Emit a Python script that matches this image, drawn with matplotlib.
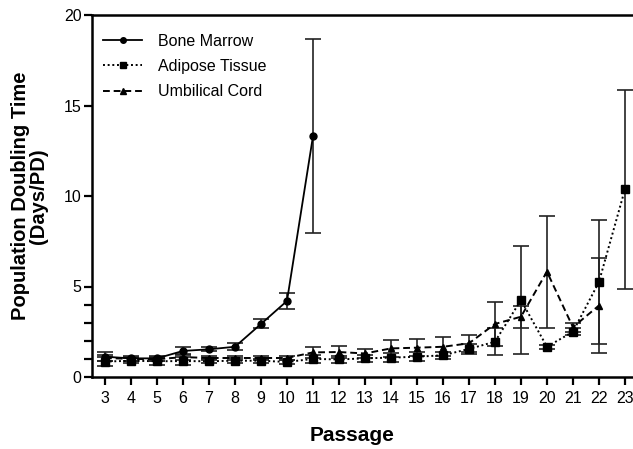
import matplotlib
matplotlib.use("Agg")
import matplotlib.pyplot as plt
from matplotlib.lines import Line2D

plt.rcParams['font.family'] = ['Liberation Sans', 'DejaVu Sans']

# Data
bm_passage = [3, 4, 5, 6, 7, 8, 9, 10, 11]
bm_mean = [1.12, 1.03, 1.03, 1.44, 1.53, 1.67, 2.93, 4.2, 13.3]
bm_err = [0.25, 0.12, 0.15, 0.2, 0.1, 0.2, 0.25, 0.43, 5.36]

at_passage = list(range(3, 24))
at_mean = [0.85, 0.9, 0.87, 0.88, 0.87, 0.9, 0.9, 0.83, 1.0, 0.97, 1.03, 1.07,
           1.12, 1.2, 1.55, 1.95, 4.25, 1.67, 2.5, 5.25, 10.37]
at_err = [0.25, 0.15, 0.2, 0.2, 0.1, 0.15, 0.1, 0.1, 0.2, 0.2, 0.2, 0.25,
          0.25, 0.2, 0.3, 0.75, 3.0, 0.1, 0.2, 3.4, 5.5]

uc_passage = list(range(3, 23))
uc_mean = [1.05, 1.0, 0.98, 1.1, 1.05, 1.05, 1.05, 1.05, 1.36, 1.38, 1.3, 1.58,
           1.62, 1.67, 1.86, 2.93, 3.33, 5.82, 2.75, 3.95]
uc_err = [0.15, 0.1, 0.1, 0.15, 0.1, 0.1, 0.1, 0.1, 0.3, 0.35, 0.25, 0.46,
          0.48, 0.52, 0.46, 1.2, 0.6, 3.1, 0.25, 2.6]

series_labels = ['Bone Marrow', 'Adipose Tissue', 'Umbilical Cord']

fig = plt.figure(figsize=(6.33, 4.49), dpi=100)
ax = fig.add_axes([92/633, 1 - 377/449, 1 - 92/633, (377 - 15)/449])

dot = (0, (1, 1.4))
dash = (0, (3.5, 2))
ekw = dict(ecolor='#222222', elinewidth=1.2, capsize=5.5, capthick=1.2)
ax.errorbar(bm_passage, bm_mean, yerr=bm_err, color='black', linestyle='-',
            linewidth=1.3, marker='o', markersize=5, **ekw)
ax.errorbar(at_passage, at_mean, yerr=at_err, color='black', linestyle=dot,
            linewidth=1.4, marker='s', markersize=5.5, **ekw)
ax.errorbar(uc_passage, uc_mean, yerr=uc_err, color='black', linestyle=dash,
            linewidth=1.4, marker='^', markersize=5, **ekw)

handles = [
    Line2D([], [], color='black', linestyle='-', linewidth=1.3, marker='o', markersize=4),
    Line2D([], [], color='black', linestyle=dot, linewidth=1.4, marker='s', markersize=4),
    Line2D([], [], color='black', linestyle=dash, linewidth=1.4, marker='^', markersize=4),
]

ax.set_xlim(2.5, 23.31)
ax.set_ylim(0, 20)
ax.set_xticks(range(3, 24))
ax.set_yticks([0, 5, 10, 15, 20])
ax.set_yticks([1, 2, 3, 4], minor=True)
ax.tick_params(axis='both', which='both', direction='out', width=1.6, length=6,
               labelsize=11.5, colors='black')
ax.tick_params(axis='y', pad=1.5)
ax.tick_params(axis='x', pad=4)

for s in ['left', 'bottom', 'top']:
    ax.spines[s].set_linewidth(1.8)
ax.spines['right'].set_visible(False)

ax.set_xlabel('Passage', fontsize=15, fontweight='bold')
ax.xaxis.set_label_coords((352 - 92)/541, -(426 - 377)/362)
ax.set_ylabel('Population Doubling Time\n(Days/PD)', fontsize=14.5, fontweight='bold',
              linespacing=0.95)
ax.yaxis.set_label_coords(-(92 - 48)/541, 0.5)

leg = ax.legend(handles, series_labels, loc='upper left', frameon=False, fontsize=11.5,
                handlelength=2.45, handletextpad=1.0, labelspacing=0.65,
                borderaxespad=0, borderpad=0.4,
                bbox_to_anchor=((11 - 6.4)/541, 1 - (18.7 - 6.4)/362))

fig.savefig('out.png', dpi=100)
